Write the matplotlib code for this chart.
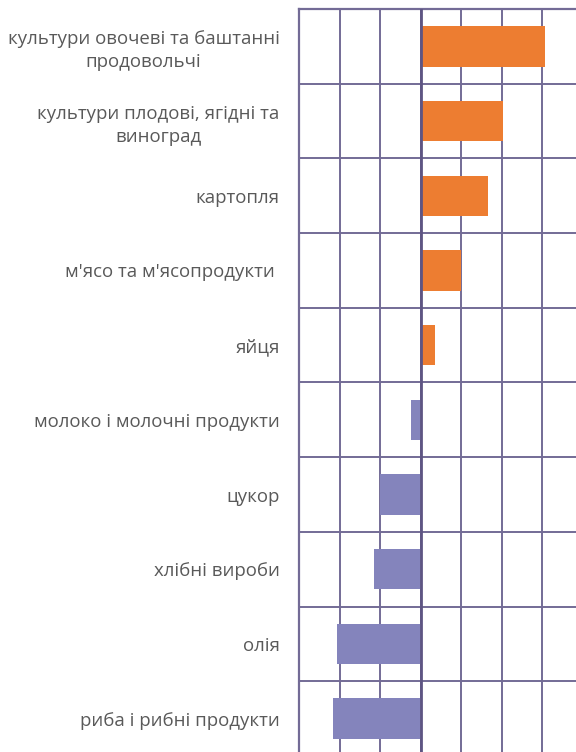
import numpy as np
import matplotlib.pyplot as plt

plt.rcParams['font.family'] = ['Open Sans', 'DejaVu Sans']

# categories top to bottom
categories = ['культури овочеві та баштанні\nпродовольчі',
              'культури плодові, ягідні та\nвиноград',
              'картопля',
              "м'ясо та м'ясопродукти ",
              'яйця',
              'молоко і молочні продукти',
              'цукор',
              'хлібні вироби',
              'олія',
              'риба і рибні продукти']
values = [3.07, 2.03, 1.67, 1.0, 0.36, -0.23, -0.99, -1.15, -2.05, -2.15]
xticks = [-3, -2, -1, 0, 1, 2, 3, 4]

grid_col = '#736b96'
fig = plt.figure(figsize=(5.76, 7.52), dpi=100)
ax = fig.add_axes([299/576, -4/752, 283.5/576, 747/752])

y = np.arange(len(categories))
colors = ['#ed7d31' if v > 0 else '#8484bc' for v in values]
ax.barh(y, values, height=0.54, color=colors, zorder=3)

ax.set_xlim(-3, 4)
ax.set_ylim(len(categories) - 0.5, -0.5)
ax.set_xticks(xticks)
ax.set_xticklabels([])
ax.tick_params(axis='x', length=0)
ax.set_yticks(y)
ax.set_yticklabels(categories, fontsize=13.4, color='#595959',
                   multialignment='center', linespacing=1.35)
ax.tick_params(axis='y', length=0, pad=14)
ax.set_yticks(np.arange(len(categories) + 1) - 0.5, minor=True)
ax.tick_params(axis='y', which='minor', length=0)

ax.grid(True, axis='x', color=grid_col, lw=1.4, zorder=1)
ax.grid(True, axis='y', which='minor', color=grid_col, lw=1.4, zorder=1)
ax.axvline(0, color='#5e5583', lw=2.0, zorder=4)

for s in ['left', 'top']:
    ax.spines[s].set_color(grid_col)
    ax.spines[s].set_linewidth(1.6)
for s in ['right', 'bottom']:
    ax.spines[s].set_visible(False)

fig.savefig('out.png', dpi=100)
